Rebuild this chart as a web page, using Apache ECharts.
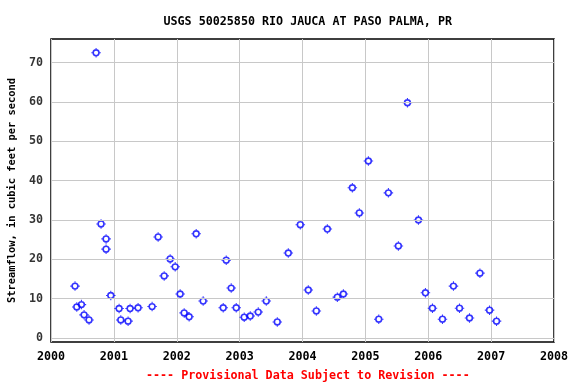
<!DOCTYPE html>
<html><head><meta charset="utf-8">
<script src="https://cdn.jsdelivr.net/npm/echarts@6/dist/echarts.min.js"></script>
<style>html,body{margin:0;padding:0;background:#fff}#c{width:576px;height:384px}</style>
</head><body><div id="c"></div>
<script>
const title = "USGS 50025850 RIO JAUCA AT PASO PALMA, PR";
const yAxisName = "Streamflow, in cubic feet per second";
const footer = "---- Provisional Data Subject to Revision ----";
// decimal year of each measurement
const years = [2000.382,2000.41,2000.484,2000.526,2000.605,2000.717,2000.796,2000.876,2000.876,2000.951,
  2001.083,2001.11,2001.226,2001.258,2001.385,2001.608,2001.704,2001.8,2001.895,2001.975,
  2002.054,2002.118,2002.197,2002.309,2002.42,2002.739,2002.787,2002.866,2002.946,2003.073,
  2003.169,2003.296,2003.424,2003.599,2003.774,2003.965,2004.092,2004.22,2004.395,2004.554,
  2004.65,2004.793,2004.904,2005.048,2005.213,2005.366,2005.525,2005.669,2005.844,2005.955,
  2006.067,2006.226,2006.401,2006.497,2006.656,2006.822,2006.975,2007.086];
// streamflow, cfs
const flows = [13.2,7.9,8.5,5.9,4.6,72.5,29.0,25.2,22.6,10.8,
  7.5,4.6,4.3,7.5,7.7,8.0,25.7,15.8,20.1,18.1,
  11.2,6.4,5.4,26.5,9.4,7.7,19.8,12.7,7.7,5.3,
  5.6,6.6,9.4,4.1,21.6,28.8,12.2,6.9,27.7,10.4,
  11.2,38.2,31.8,45.0,4.8,36.9,23.4,59.8,30.0,11.5,
  7.6,4.8,13.2,7.6,5.1,16.5,7.1,4.3];
const xTicks = [2000,2001,2002,2003,2004,2005,2006,2007,2008];
const yTicks = [0,10,20,30,40,50,60,70];

const font = "'DejaVu Sans Mono', 'Liberation Mono', monospace";
const marker = 'path://M1,4.5 A3.5,3.5 0 1,1 8,4.5 A3.5,3.5 0 1,1 1,4.5 Z ' +
  'M2.5,4.5 A2,2 0 1,0 6.5,4.5 A2,2 0 1,0 2.5,4.5 Z ' +
  'M4,0 H5 V1.5 H4 Z M4,7.5 H5 V9 H4 Z M0,4 H1.5 V5 H0 Z M7.5,4 H9 V5 H7.5 Z';
const chart = echarts.init(document.getElementById('c'), null, {renderer:'canvas'});
chart.setOption({
  animation:false,
  backgroundColor:'#fff',
  title:[{text:title,left:158.5,top:10.5,textStyle:{fontFamily:font,fontSize:11.7,fontWeight:'bold',color:'#000'}},
         {text:footer,left:141,top:365,textStyle:{fontFamily:font,fontSize:11.7,fontWeight:'bold',color:'#ff0000'}}],
  grid:{left:51,top:39,right:22,bottom:42,outerBoundsMode:'none',containLabel:false,show:true,borderColor:'#000',borderWidth:1.5,backgroundColor:'transparent'},
  xAxis:{type:'value',min:xTicks[0],max:xTicks[xTicks.length-1],interval:1,
    axisLine:{show:false},axisTick:{show:false},
    splitLine:{show:true,lineStyle:{color:'#c8c8c8',width:1}},
    axisLabel:{margin:9,fontFamily:font,fontSize:11.7,fontWeight:'bold',color:'#000',formatter:v=>String(v)}},
  yAxis:{type:'value',min:-1,max:76,
    axisLine:{show:false},axisTick:{show:false},
    splitLine:{show:false},
    axisLabel:{show:false},
    name:yAxisName,nameLocation:'middle',nameGap:34,nameRotate:90,
    nameTextStyle:{fontFamily:font,fontSize:10.4,fontWeight:'bold',color:'#000'}},
  series:[
    {type:'line',data:[],markLine:{silent:true,symbol:'none',label:{show:false},
      lineStyle:{color:'#c8c8c8',width:1,type:'solid'},
      data:yTicks.map(t=>({yAxis:t}))}},
    {type:'scatter',data:yTicks.map(t=>[xTicks[0],t]),symbolSize:0,silent:true,
      label:{show:true,position:'left',distance:8,formatter:p=>String(p.value[1]),
        fontFamily:font,fontSize:11.7,fontWeight:'bold',color:'#000'}},
    {type:'scatter',data:years.map((y,i)=>[y,flows[i]]),symbol:marker,symbolSize:9.5,
      itemStyle:{color:'#0000ff',borderWidth:0}}
  ]
});
</script></body></html>
